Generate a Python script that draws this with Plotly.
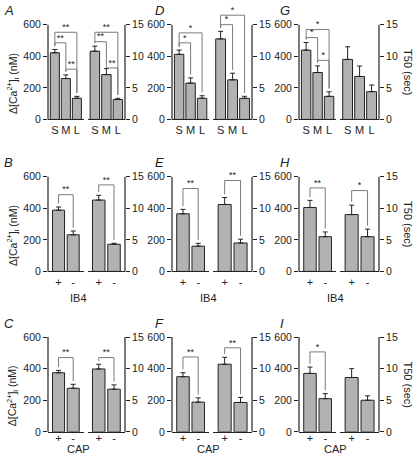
import plotly.graph_objects as go

# ---------------- data ----------------
size_cats = ["S", "M", "L"]
pm_cats = ["+", "-"]

A_ca = [422, 259, 134]; A_ca_err = [21, 23, 12]
A_t50 = [10.8, 7.1, 3.15]; A_t50_err = [0.8, 0.95, 0.2]
D_ca = [412, 230, 134]; D_ca_err = [27, 33, 16]
D_t50 = [12.75, 6.27, 3.34]; D_t50_err = [1.2, 1.05, 0.32]
G_ca = [439, 297, 146]; G_ca_err = [48, 42, 29]
G_t50 = [9.5, 6.8, 4.4]; G_t50_err = [2.0, 1.65, 1.05]

B_ca = [388, 232]; B_ca_err = [20, 24]
B_t50 = [11.3, 4.3]; B_t50_err = [0.75, 0.15]
E_ca = [365, 160]; E_ca_err = [28, 18]
E_t50 = [10.6, 4.5]; E_t50_err = [1.1, 0.6]
H_ca = [405, 220]; H_ca_err = [45, 30]
H_t50 = [9.0, 5.5]; H_t50_err = [1.5, 1.2]

C_ca = [374, 276]; C_ca_err = [15, 25]
C_t50 = [9.95, 6.75]; C_t50_err = [0.75, 0.68]
F_ca = [349, 188]; F_ca_err = [25, 27]
F_t50 = [10.7, 4.65]; F_t50_err = [1.1, 0.8]
I_ca = [370, 210]; I_ca_err = [40, 32]
I_t50 = [8.6, 5.0]; I_t50_err = [1.4, 0.7]

# significance brackets: (i, j, level, label)
A_ca_sig = [(0, 2, 552, "**"), (0, 1, 485, "**"), (1, 2, 318, "**")]
A_t50_sig = [(0, 2, 13.8, "**"), (0, 1, 12.3, "**"), (1, 2, 8.15, "**")]
D_ca_sig = [(0, 2, 548, "*"), (0, 1, 485, "*")]
D_t50_sig = [(0, 2, 16.5, "*"), (0, 1, 15.0, "*")]
G_ca_sig = [(0, 2, 569, "*"), (0, 1, 518, "*"), (1, 2, 374, "*")]
G_t50_sig = []
B_ca_sig = [(0, 1, 486, "**")]
B_t50_sig = [(0, 1, 13.7, "**")]
E_ca_sig = [(0, 1, 525, "**")]
E_t50_sig = [(0, 1, 14.4, "**")]
H_ca_sig = [(0, 1, 529, "**")]
H_t50_sig = [(0, 1, 12.8, "*")]
C_ca_sig = [(0, 1, 470, "**")]
C_t50_sig = [(0, 1, 11.75, "**")]
F_ca_sig = [(0, 1, 474, "**")]
F_t50_sig = [(0, 1, 13.3, "**")]
I_ca_sig = [(0, 1, 506, "*")]
I_t50_sig = []

ca_ticks = [0, 200, 400, 600]
t50_ticks = [0, 5, 10, 15]
ca_title = "Δ[Ca<sup>2+</sup>]<sub>i</sub> (nM)"
t50_title = "T50 (sec)"

panels = [
    # letter, row, col, cats, ca, ca_err, t50, t50_err, ca_sig, t50_sig
    ("A", 0, 0, size_cats, A_ca, A_ca_err, A_t50, A_t50_err, A_ca_sig, A_t50_sig),
    ("D", 0, 1, size_cats, D_ca, D_ca_err, D_t50, D_t50_err, D_ca_sig, D_t50_sig),
    ("G", 0, 2, size_cats, G_ca, G_ca_err, G_t50, G_t50_err, G_ca_sig, G_t50_sig),
    ("B", 1, 0, pm_cats, B_ca, B_ca_err, B_t50, B_t50_err, B_ca_sig, B_t50_sig),
    ("E", 1, 1, pm_cats, E_ca, E_ca_err, E_t50, E_t50_err, E_ca_sig, E_t50_sig),
    ("H", 1, 2, pm_cats, H_ca, H_ca_err, H_t50, H_t50_err, H_ca_sig, H_t50_sig),
    ("C", 2, 0, pm_cats, C_ca, C_ca_err, C_t50, C_t50_err, C_ca_sig, C_t50_sig),
    ("F", 2, 1, pm_cats, F_ca, F_ca_err, F_t50, F_t50_err, F_ca_sig, F_t50_sig),
    ("I", 2, 2, pm_cats, I_ca, I_ca_err, I_t50, I_t50_err, I_ca_sig, I_t50_sig),
]
row_xlabel = {1: "IB4", 2: "CAP"}

# ---------------- layout geometry (pixels) ----------------
W, H = 416, 463
col_left = [48, 172, 299]
col_right = [125, 252, 379]
col_letter = [2, 153, 278]
col_xlabel_shift = [-8, -4, -4]
row_zero = [121, 275, 437.5]
row_xlabel_off = {1: 27, 2: 17}
row_tick_standoff = [0, 0, -4]
axis_px = 96          # pixels spanned by 0..600 / 0..15
headroom = 17 / 15    # extra range above the top tick for brackets

FONT = "Liberation Sans, Arial, Helvetica, sans-serif"
INK = "#222222"
BAR = "#b2b2b2"
BRACKET = "#7a7a7a"


def px_x(p):
    return p / W


def px_y(p):
    return 1 - p / H


fig = go.Figure()
layout = {}
shapes = []
annotations = []
k = 0
for (letter, r, c, cats, ca, ca_err, t50, t50_err, ca_sig, t50_sig) in panels:
    L, R = col_left[c], col_right[c]
    mid = L + 0.49 * (R - L)
    y0 = row_zero[r]
    ydom = [px_y(y0), px_y(y0 - axis_px * headroom)]
    n = len(cats)
    pad = 0.62 if n == 3 else 0.72
    bw = 0.82
    for side, (vals, errs, sig, ticks, top) in enumerate(
        [(ca, ca_err, ca_sig, ca_ticks, 600), (t50, t50_err, t50_sig, t50_ticks, 15)]
    ):
        k += 1
        xs = "" if k == 1 else str(k)
        xa, ya = "x" + xs, "y" + xs
        xdom = [px_x(L), px_x(mid - 2)] if side == 0 else [px_x(mid + 2), px_x(R)]
        xpos = list(range(n))
        fig.add_trace(go.Bar(
            x=xpos, y=vals, xaxis=xa, yaxis=ya, width=bw,
            marker=dict(color=BAR, line=dict(color=INK, width=1)),
            error_y=dict(type="data", array=errs, arrayminus=[0] * n,
                         symmetric=False, color=INK, thickness=1, width=2.5),
            showlegend=False, hoverinfo="skip",
        ))
        gap = top * 0.035
        for (i, j, lev, lab) in sig:
            fig.add_trace(go.Scatter(
                x=[i, i, j, j],
                y=[vals[i] + errs[i] + gap, lev, lev, vals[j] + errs[j] + gap],
                xaxis=xa, yaxis=ya, mode="lines",
                line=dict(color=BRACKET, width=1),
                showlegend=False, hoverinfo="skip",
            ))
            fig.add_trace(go.Scatter(
                x=[(i + j) / 2], y=[lev], text=[lab], mode="text",
                textposition="top center", cliponaxis=False,
                textfont=dict(family=FONT, size=9, color=INK),
                xaxis=xa, yaxis=ya, showlegend=False, hoverinfo="skip",
            ))
        layout["xaxis" + xs] = dict(
            domain=xdom, anchor=ya, range=[-pad, n - 1 + pad],
            tickvals=xpos, ticktext=cats, ticks="", showgrid=False,
            zeroline=False, showline=True, linecolor=INK, linewidth=1.2,
            ticklabelstandoff=row_tick_standoff[r],
            tickfont=dict(family=FONT, size=11, color=INK), fixedrange=True,
        )
        layout["yaxis" + xs] = dict(
            domain=ydom, anchor=xa, range=[0, top * headroom],
            side="left" if side == 0 else "right",
            tickvals=ticks, ticks="outside", ticklen=4, tickwidth=1.2,
            tickcolor=INK, showgrid=False, zeroline=False, showline=False,
            tickfont=dict(family=FONT, size=10.5, color=INK), fixedrange=True,
        )
        spine_x = px_x(L) if side == 0 else px_x(R)
        shapes.append(dict(type="line", xref="paper", yref="paper",
                           x0=spine_x, x1=spine_x, y0=px_y(y0), y1=px_y(y0 - axis_px),
                           line=dict(color=INK, width=1.2)))
    # panel letter
    annotations.append(dict(text="<i>%s</i>" % letter, xref="paper", yref="paper",
                            x=px_x(col_letter[c]), y=px_y(y0 - axis_px - 14),
                            xanchor="left", yanchor="middle", showarrow=False,
                            font=dict(family=FONT, size=13, color=INK)))
    if c == 0:
        annotations.append(dict(text=ca_title, xref="paper", yref="paper",
                                x=px_x(13), y=px_y(y0 - axis_px / 2 + 12),
                                xanchor="center", yanchor="middle",
                                textangle=-90, showarrow=False,
                                font=dict(family=FONT, size=10.5, color=INK)))
    if c == 2:
        annotations.append(dict(text=t50_title, xref="paper", yref="paper",
                                x=px_x(408), y=px_y(y0 - axis_px / 2),
                                xanchor="center", yanchor="middle",
                                textangle=90, showarrow=False,
                                font=dict(family=FONT, size=11, color=INK)))
    if r in row_xlabel:
        annotations.append(dict(text=row_xlabel[r], xref="paper", yref="paper",
                                x=px_x((L + R) / 2 + col_xlabel_shift[c]),
                                y=px_y(y0 + row_xlabel_off[r]),
                                xanchor="center", yanchor="middle",
                                showarrow=False,
                                font=dict(family=FONT, size=11, color=INK)))

fig.update_layout(
    width=W, height=H, autosize=False,
    margin=dict(l=0, r=0, t=0, b=0),
    paper_bgcolor="white", plot_bgcolor="rgba(0,0,0,0)",
    shapes=shapes, annotations=annotations, bargap=0.18,
    **layout,
)
fig.write_html("out.html", config={"displayModeBar": False},
               post_script="document.body.style.margin='0px';")
